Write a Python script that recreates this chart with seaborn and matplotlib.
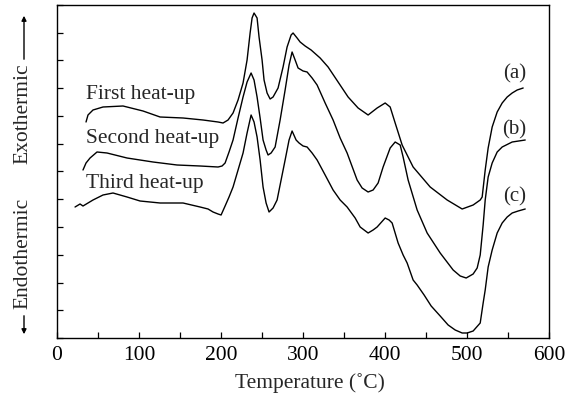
import numpy as np
import pandas as pd
import matplotlib
matplotlib.use("Agg")
import matplotlib.pyplot as plt
import seaborn as sns

temp_a = [35.4, 37.8, 43.9, 56.1, 80.5, 104.9, 125.7, 153.7, 178.1, 196.4,
          202.5, 208.6, 214.7, 220.8, 226.9, 231.8, 235.5, 237.9, 240.3, 244.0,
          246.4, 250.1, 252.5, 256.2, 259.9, 263.5, 269.6, 275.7, 280.6, 285.5,
          287.9, 292.8, 296.5, 302.6, 309.9, 320.9, 330.6, 342.8, 355.0, 367.2,
          379.4, 390.4, 400.2, 406.3, 412.4, 420.9, 434.3, 455.1, 475.8, 494.1,
          507.5, 516.1, 518.5, 522.2, 525.8, 530.7, 536.8, 542.9, 549.0, 555.1,
          561.2, 568.5]
heat_a = [216, 223, 228, 231, 232, 227, 221, 220, 218, 216,
          215, 218, 225, 238, 255, 278, 305, 320, 325, 320,
          301, 278, 258, 245, 239, 241, 250, 271, 291, 303,
          305, 300, 296, 292, 288, 280, 271, 256, 241, 230,
          223, 230, 235, 231, 215, 193, 171, 151, 138, 129,
          133, 138, 141, 168, 190, 211, 226, 235, 241, 245,
          248, 250]

temp_b = [31.7, 35.4, 40.3, 48.8, 61.0, 85.4, 117.1, 146.4, 174.5, 196.4,
          201.3, 205.0, 209.8, 214.7, 220.8, 226.9, 231.8, 236.7, 240.3, 244.0,
          247.7, 251.3, 255.0, 257.4, 261.1, 266.0, 272.1, 278.2, 283.0, 286.7,
          290.4, 294.0, 300.1, 305.0, 311.1, 317.2, 327.0, 336.7, 345.3, 353.8,
          366.0, 372.1, 379.4, 385.5, 391.6, 397.7, 406.3, 412.4, 418.5, 422.1,
          428.2, 439.2, 451.4, 467.3, 483.1, 491.7, 499.0, 507.5, 512.4, 516.1,
          519.7, 522.2, 525.8, 530.7, 536.8, 542.9, 555.1, 571.0]
heat_b = [168, 175, 180, 186, 185, 180, 176, 173, 172, 171,
          172, 175, 186, 198, 220, 241, 256, 265, 258, 241,
          220, 198, 188, 183, 185, 191, 218, 248, 273, 286,
          278, 270, 267, 266, 260, 253, 235, 218, 200, 185,
          158, 150, 146, 148, 155, 171, 190, 196, 193, 181,
          158, 128, 105, 85, 68, 62, 60, 64, 70, 83,
          113, 138, 161, 175, 186, 191, 196, 198]

temp_c = [22.0, 28.1, 31.7, 37.8, 43.9, 56.1, 68.3, 85.4, 101.3, 125.7,
          153.7, 174.5, 184.2, 190.3, 196.4, 200.1, 205.0, 209.8, 214.7, 220.8,
          226.9, 231.8, 236.7, 240.3, 244.0, 247.7, 251.3, 255.0, 258.6, 263.5,
          268.4, 273.3, 278.2, 283.0, 286.7, 291.6, 295.2, 300.1, 305.0, 311.1,
          317.2, 327.0, 336.7, 345.3, 353.8, 363.6, 369.7, 379.4, 385.5, 390.4,
          400.2, 405.0, 408.7, 416.0, 422.1, 427.0, 434.3, 439.2, 447.7, 456.3,
          467.3, 477.0, 485.6, 494.1, 500.2, 507.5, 516.1, 519.7, 522.2, 525.8,
          530.7, 536.8, 542.9, 549.0, 555.1, 562.4, 571.0]
heat_c = [131, 134, 132, 135, 138, 143, 145, 141, 137, 135,
          135, 131, 129, 126, 124, 123, 132, 141, 151, 168,
          185, 205, 223, 216, 201, 178, 151, 135, 126, 130,
          138, 158, 178, 198, 207, 198, 195, 192, 191, 185,
          178, 163, 148, 138, 131, 120, 111, 105, 108, 111,
          120, 118, 115, 95, 83, 75, 58, 53, 43, 32,
          22, 13, 8, 5, 5, 7, 15, 35, 48, 71,
          88, 105, 115, 121, 125, 127, 129]

series_names = ["First heat-up", "Second heat-up", "Third heat-up"]
curve_tags = ["(a)", "(b)", "(c)"]
x_ticks = [0, 100, 200, 300, 400, 500, 600]

df = pd.concat([
    pd.DataFrame({"T": temp_a, "H": heat_a, "run": series_names[0]}),
    pd.DataFrame({"T": temp_b, "H": heat_b, "run": series_names[1]}),
    pd.DataFrame({"T": temp_c, "H": heat_c, "run": series_names[2]}),
], ignore_index=True)

sns.set_style("ticks")
plt.rcParams["font.family"] = ["Liberation Serif", "DejaVu Serif"]

fig = plt.figure(figsize=(5.78, 3.96), dpi=100)
ax = fig.add_axes([57 / 578, 1 - 338 / 396, 492 / 578, 333 / 396])

sns.lineplot(data=df, x="T", y="H", hue="run", palette=["black"] * 3,
             estimator=None, sort=False, legend=False, linewidth=1.0, ax=ax)

ax.set_xlim(0, 600)
ax.set_ylim(0, 333)
ax.set_xticks(x_ticks)
ax.set_xticklabels([str(v) for v in x_ticks], fontsize=15.5)
ax.set_xticks(np.arange(50, 600, 100), minor=True)
ax.set_yticks(np.linspace(0, 333, 13))
ax.set_yticklabels([])
ax.tick_params(axis="both", which="both", direction="in", length=4, width=0.9,
               pad=6, colors="black", top=False, right=False)
for s in ax.spines.values():
    s.set_visible(True)
    s.set_linewidth(1.0)
    s.set_color("black")
ax.set_xlabel("")
ax.set_ylabel("")

# series labels
ax.text(35.4, 239, series_names[0], fontsize=15.5, va="baseline", ha="left")
ax.text(35.4, 195, series_names[1], fontsize=15.5, va="baseline", ha="left")
ax.text(35.4, 150, series_names[2], fontsize=15.5, va="baseline", ha="left")
ax.text(558, 264, curve_tags[0], fontsize=15, va="center", ha="center")
ax.text(558, 208.5, curve_tags[1], fontsize=15, va="center", ha="center")
ax.text(558, 141, curve_tags[2], fontsize=15, va="center", ha="center")

# axis titles
fig.text(310 / 578, 1 - 383 / 396, "Temperature (˚C)", fontsize=15.5,
         ha="center", va="center")
fig.text(23 / 578, 1 - 114 / 396, "Exothermic", fontsize=15.5, rotation=90,
         ha="center", va="center")
fig.text(23 / 578, 1 - 253 / 396, "Endothermic", fontsize=15.5, rotation=90,
         ha="center", va="center")
fig.add_artist(matplotlib.patches.FancyArrowPatch(
    (24 / 578, 1 - 62 / 396), (24 / 578, 1 - 13 / 396), transform=fig.transFigure,
    arrowstyle="-|>", mutation_scale=7, lw=1.0, color="black"))
fig.add_artist(matplotlib.patches.FancyArrowPatch(
    (24 / 578, 1 - 313 / 396), (24 / 578, 1 - 337 / 396), transform=fig.transFigure,
    arrowstyle="-|>", mutation_scale=7, lw=1.0, color="black"))

fig.savefig("out.png", dpi=100)
